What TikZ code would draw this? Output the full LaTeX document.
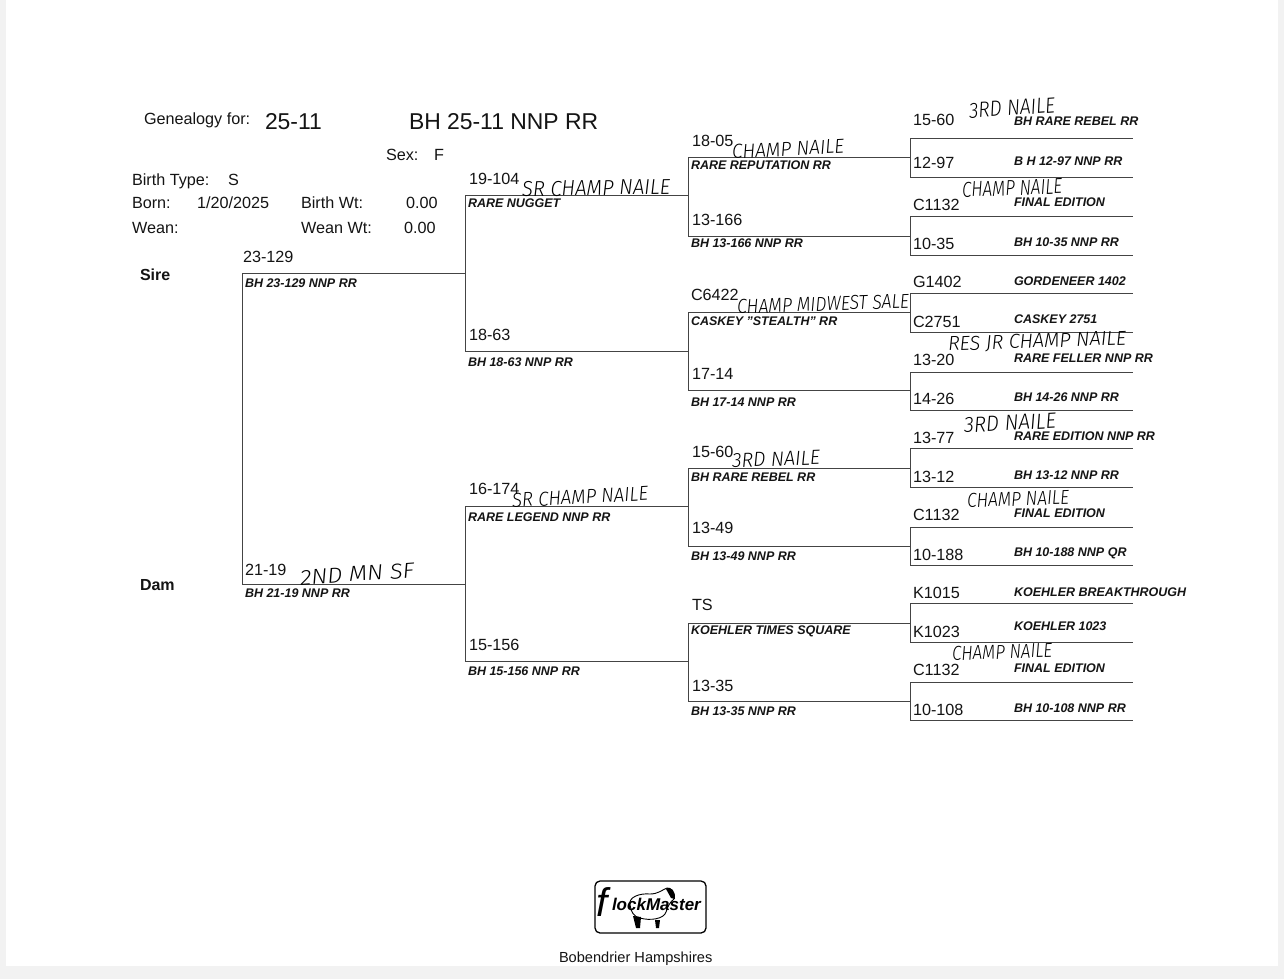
\documentclass[tikz,border=0pt]{standalone}
\usepackage{fontspec}
\usepackage{graphicx}
\setmainfont{Liberation Sans}
\newfontfamily\handf{Fira Sans Light}[ItalicFont={Fira Sans Light Italic}]
\definecolor{inkc}{HTML}{141414}
\definecolor{linec}{HTML}{444444}
\definecolor{pagec}{HTML}{F2F2F2}
\tikzset{
  ln/.style={draw=linec,line width=1pt},
  lab/.style={anchor=west,inner sep=0pt,outer sep=0pt,text=inkc},
  idl/.style={lab,font=\fontsize{16.2}{18}\selectfont},
  nam/.style={lab,font=\fontsize{12.5}{14}\selectfont\bfseries\itshape},
  big/.style={lab,font=\fontsize{22.9}{25}\selectfont},
  hw/.style={inner sep=0pt,outer sep=0pt,text=black},
}
\newcommand{\handtxt}[3]{\resizebox{#1pt}{#2pt}{\handf\itshape #3}}
\begin{document}
\begin{tikzpicture}[x=1pt,y=-1pt]
\useasboundingbox (0,0) rectangle (1284,979);
\fill[pagec] (0,0) rectangle (1284,979);
\fill[white] (6,0) rectangle (1278,966);
% pedigree lines
\foreach \n/\xa/\xb/\yy in {
 a/242/465/273, b/242/465/584,
 c/465/688/195, d/465/688/351, e/465/688/506, f/465/688/661,
 g/688/910/157, h/688/910/236, i/688/910/312, j/688/910/390,
 k/688/910/468, l/688/910/546, m/688/910/623, o/688/910/701,
 p/910/1133/138, q/910/1133/177, r/910/1133/216, s/910/1133/255,
 t/910/1133/293, u/910/1133/332, v/910/1133/372, w/910/1133/410,
 x/910/1133/448, y/910/1133/487, z/910/1133/527, aa/910/1133/565,
 ab/910/1133/603, ac/910/1133/642, ad/910/1133/682, ae/910/1133/720}{
  \coordinate (L\n) at (\xa,\yy);
  \coordinate (R\n) at (\xb,\yy);
  \draw[ln] (L\n) -- (R\n);
}
\foreach \pa/\pb in {a/b,c/d,e/f,g/h,i/j,k/l,m/o,p/q,r/s,t/u,v/w,x/y,z/aa,ab/ac,ad/ae}{
  \draw[ln] (L\pa) -- (L\pb);
}
% header
\node[idl] (hgen) at (144,120.5) {Genealogy for:};
\node[big] (hid) at (265,122) {25-11};
\node[big] (htitle) at (409,122) {BH 25-11 NNP RR};
\foreach \xx/\yy/\s [count=\i] in {
 386/155/{Sex:}, 434/155/{F}, 132/181.5/{Birth Type:}, 228/180/{S},
 132/203/{Born:}, 197/203/{1/20/2025}, 301/203/{Birth Wt:}, 406/203/{0.00},
 132/228/{Wean:}, 301/228/{Wean Wt:}, 404/228/{0.00}}{
  \node[idl] (hd\i) at (\xx,\yy) {\s};
}
\node[lab,font=\fontsize{16}{18}\selectfont\bfseries] (sire) at (140,275) {Sire};
\node[lab,font=\fontsize{16}{18}\selectfont\bfseries] (dam) at (140,585) {Dam};
% ids
\foreach \xx/\yy/\s [count=\i] in {
 243/257/{23-129}, 245/570/{21-19},
 469/179/{19-104}, 469/335/{18-63}, 469/489/{16-174}, 469/645/{15-156},
 692/141/{18-05}, 692/220/{13-166}, 691/295/{C6422}, 692/374/{17-14},
 692/452/{15-60}, 692/528/{13-49}, 692/605/{TS}, 692/686/{13-35},
 913/120/{15-60}, 913/163/{12-97}, 913/205/{C1132}, 913/244/{10-35},
 913/282/{G1402}, 913/322/{C2751}, 913/360/{13-20}, 913/399/{14-26},
 913/438/{13-77}, 913/477/{13-12}, 913/515/{C1132}, 913/555/{10-188},
 913/593/{K1015}, 913/632/{K1023}, 913/670/{C1132}, 913/710/{10-108}}{
  \node[idl] (id\i) at (\xx,\yy) {\s};
}
% names
\foreach \xx/\yy/\s [count=\i] in {
 245/283/{BH 23-129 NNP RR}, 245/593/{BH 21-19 NNP RR},
 468/203/{RARE NUGGET}, 468/362/{BH 18-63 NNP RR}, 468/517/{RARE LEGEND NNP RR}, 468/671/{BH 15-156 NNP RR},
 691/165/{RARE REPUTATION RR}, 691/243/{BH 13-166 NNP RR}, 691/321/{CASKEY "STEALTH" RR}, 691/402/{BH 17-14 NNP RR},
 691/477/{BH RARE REBEL RR}, 691/556/{BH 13-49 NNP RR}, 691/631/{KOEHLER TIMES SQUARE}, 691/711/{BH 13-35 NNP RR},
 1014/121/{BH RARE REBEL RR}, 1014/161/{B H 12-97 NNP RR}, 1014/202/{FINAL EDITION}, 1014/242/{BH 10-35 NNP RR},
 1014/281/{GORDENEER 1402}, 1014/319/{CASKEY 2751}, 1014/358/{RARE FELLER NNP RR}, 1014/397/{BH 14-26 NNP RR},
 1014/436/{RARE EDITION NNP RR}, 1014/475/{BH 13-12 NNP RR}, 1014/513/{FINAL EDITION}, 1014/553/{BH 10-188 NNP QR},
 1014/592/{KOEHLER BREAKTHROUGH}, 1014/626/{KOEHLER 1023}, 1014/668/{FINAL EDITION}, 1014/708/{BH 10-108 NNP RR}}{
  \node[nam] (nm\i) at (\xx,\yy) {\s};
}
% handwritten notes
\foreach \cx/\cy/\w/\h/\rot/\s [count=\i] in {
 1012/108/86/15/4/{3RD NAILE},
 788/149/112/14/3/{CHAMP NAILE},
 596/188/148/15/1/{SR CHAMP NAILE},
 1012/188/100/15/2/{CHAMP NAILE},
 823/304/172/14/2/{CHAMP MIDWEST SALE},
 1037/342/178/14/2/{RES JR CHAMP NAILE},
 1010/423/92/15/3/{3RD NAILE},
 776/459/88/14/2/{3RD NAILE},
 580/497/136/14/3/{SR CHAMP NAILE},
 1018/499/102/14/2/{CHAMP NAILE},
 357/574/114/15/4/{2ND MN SF},
 1002/652/100/14/2/{CHAMP NAILE}}{
  \node[hw,rotate=\rot] (hw\i) at (\cx,\cy) {\handtxt{\w}{\h}{\s}};
}
% logo
\node[draw=black,line width=1.3pt,rounded corners=5pt,minimum width=111pt,minimum height=52pt,inner sep=0pt] (logo) at (650.5,907) {};
\draw[black,line width=0.9pt,fill=white] (630,905) .. controls (628,897) and (640,893) .. (650,894) .. controls (658,894) and (662,890) .. (667,888) .. controls (672,888) and (674,893) .. (674,899) .. controls (670,902) and (668,906) .. (666,912) .. controls (664,919) and (650,921) .. (640,918) .. controls (634,917) and (631,912) .. (630,905) -- cycle;
\fill[black] (666,889) .. controls (671,885) and (676,892) .. (675,899) -- (671,898) -- cycle;
\fill[black] (633,916) -- (641,917) -- (640,928) -- (636,928) -- cycle;
\fill[black] (655,920) -- (660,920) -- (659,928) -- (656,928) -- cycle;
\node[lab,text=black,font=\fontsize{40}{40}\selectfont\itshape] (logof) at (596,902) {f};
\node[lab,text=black,font=\fontsize{17}{18}\selectfont\bfseries\itshape] (logot) at (612,904) {lockMaster};
\node[lab,font=\fontsize{14.6}{16}\selectfont] (farm) at (559,958.5) {Bobendrier Hampshires};
\end{tikzpicture}
\end{document}
